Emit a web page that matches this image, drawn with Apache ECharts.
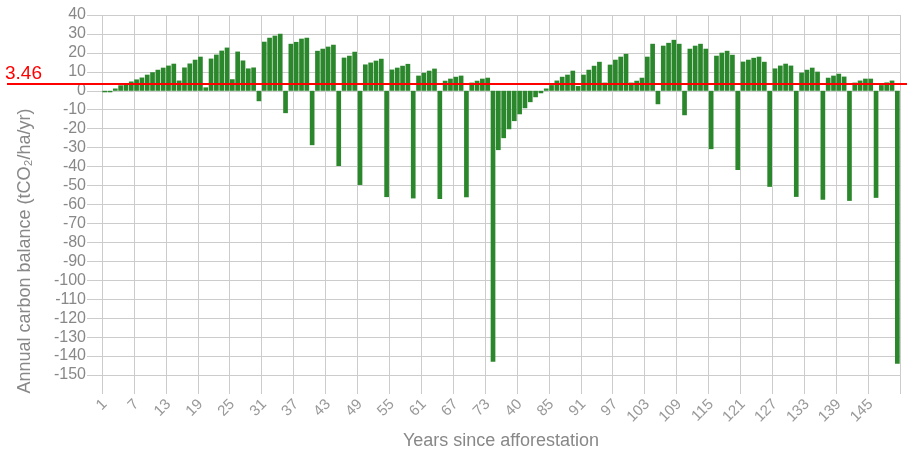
<!DOCTYPE html>
<html>
<head>
	<meta charset="UTF-8">
	<title></title>
	<script type="text/javascript" src="https://cdn.jsdelivr.net/npm/echarts@6/dist/echarts.min.js"></script>
	<style type="text/css">
		html,body{margin:0; padding:0; background:#fff;}
		#chart1{width:907px; height:450px;}
	</style>
</head>
<body>
	<div id="chart1"></div>
	<script type="text/javascript">
		// years since afforestation (the source data has "40" where 79 should be)
		var years = [
			1,2,3,4,5,6,7,8,9,10,
			11,12,13,14,15,16,17,18,19,20,
			21,22,23,24,25,26,27,28,29,30,
			31,32,33,34,35,36,37,38,39,40,
			41,42,43,44,45,46,47,48,49,50,
			51,52,53,54,55,56,57,58,59,60,
			61,62,63,64,65,66,67,68,69,70,
			71,72,73,74,75,76,77,78,40,80,
			81,82,83,84,85,86,87,88,89,90,
			91,92,93,94,95,96,97,98,99,100,
			101,102,103,104,105,106,107,108,109,110,
			111,112,113,114,115,116,117,118,119,120,
			121,122,123,124,125,126,127,128,129,130,
			131,132,133,134,135,136,137,138,139,140,
			141,142,143,144,145,146,147,148,149,150
		];
		// annual carbon balance, tCO2/ha/yr
		var balance = [
			-0.8,-0.8,1.2,2.9,3.8,4.9,6.0,7.0,8.5,9.8,
			11.1,12.2,13.3,14.3,5.4,12.3,14.4,16.4,18.0,1.8,
			17.0,19.1,21.2,22.8,6.1,20.7,16.0,11.8,12.3,-5.5,
			25.9,28.0,29.1,30.1,-11.8,24.8,25.8,27.5,28.0,-28.7,
			21.1,22.2,23.3,24.3,-39.7,17.5,18.5,20.6,-49.7,13.9,
			14.9,15.9,16.9,-56.1,11.2,12.2,13.2,14.2,-56.8,8.0,
			9.5,10.6,11.7,-57.1,5.3,6.4,7.4,8.0,-56.2,4.3,
			5.3,6.4,6.9,-143.0,-31.3,-25.0,-20.3,-16.0,-12.4,-9.2,
			-6.0,-3.4,-1.3,1.2,3.0,5.4,7.4,8.5,10.6,2.5,
			8.5,11.1,13.2,15.3,4.3,13.8,16.4,18.0,19.5,4.3,
			5.3,6.9,18.0,24.8,-7.1,23.8,25.3,26.9,24.8,-12.9,
			22.2,23.8,24.8,22.2,-30.8,18.5,20.1,21.1,19.0,-41.8,
			15.4,16.4,17.4,18.0,15.3,-50.7,11.8,13.3,14.3,13.3,
			-56.0,9.6,11.1,12.2,10.1,-57.5,6.9,8.0,9.0,7.5,
			-58.1,4.3,5.4,6.4,6.4,-56.5,3.0,4.4,5.4,-144.0
		];
		var meanBalance = 3.46;

		var myChart = echarts.init(document.getElementById('chart1'), null, {renderer:'canvas'});
		var grey = '#cccccc';
		var option = {
			animation:false,
			textStyle:{fontFamily:'Liberation Sans, Arial, sans-serif'},
			grid:{left:102, right:7, top:15, bottom:75, outerBoundsMode:'none'},
			xAxis:{
				type:'category',
				data:years.map(String),
				name:'Years since afforestation',
				nameLocation:'middle',
				nameGap:54,
				nameTextStyle:{color:'#888', fontSize:18},
				axisLine:{show:false, onZero:false},
				axisTick:{show:true, interval:5, length:19, lineStyle:{color:grey}},
				axisLabel:{interval:5, rotate:45, color:'#999', fontSize:15, margin:27},
				splitLine:{show:true, interval:5, lineStyle:{color:grey}}
			},
			yAxis:{
				type:'value',
				min:-150, max:40, interval:10,
				name:'Annual carbon balance (tCO\u2082/ha/yr)',
				nameLocation:'middle',
				nameGap:68,
				nameTextStyle:{color:'#888', fontSize:18, padding:[0,112,0,0]},
				axisLine:{show:false},
				axisTick:{show:true, length:15, lineStyle:{color:grey}},
				axisLabel:{color:'#888', fontSize:16, margin:16},
				splitLine:{lineStyle:{color:grey}}
			},
			series:[{
				type:'bar',
				data:balance,
				barCategoryGap:'12%',
				itemStyle:{color:'#2b872b'},
				markLine:{
					silent:true,
					symbol:'none',
					lineStyle:{color:'#ff0000', width:2, type:'solid'},
					label:{
						position:'insideStartTop',
						distance:[-2, 1],
						color:'#ff0000',
						fontSize:19,
						formatter:function(){ return meanBalance.toFixed(2); }
					},
					data:[[{x:7, yAxis:meanBalance}, {x:907, yAxis:meanBalance}]]
				}
			}]
		};
		myChart.setOption(option);
	</script>
</body>
</html>
